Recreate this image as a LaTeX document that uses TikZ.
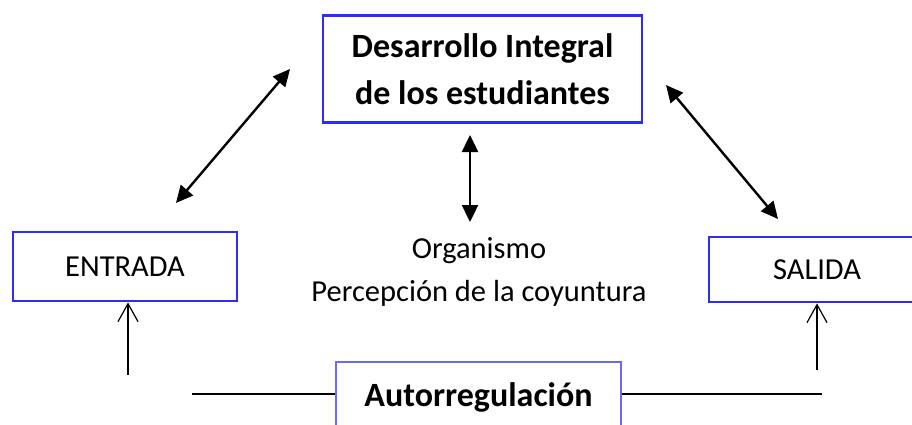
\documentclass[tikz,border=0pt]{standalone}
\usepackage{fontspec}
\setmainfont{Carlito}
\usetikzlibrary{arrows.meta}
\definecolor{boxblue}{RGB}{45,45,250}
\definecolor{paleblue}{RGB}{105,105,250}
\tikzset{
  bluebox/.style={draw=boxblue, line width=2.8pt, align=center, inner sep=0pt},
  dblarrow/.style={line width=2.4pt, {Triangle[length=17pt,width=16pt]}-{Triangle[length=17pt,width=16pt]}},
  uparrow/.style={line width=1.2pt, -{Straight Barb[length=18pt,width=20pt]}},
  boldtext/.style={font=\fontsize{34}{47}\selectfont\bfseries},
  plaintext/.style={font=\fontsize{30.5}{43}\selectfont},
}
\begin{document}
\begin{tikzpicture}[x=1pt, y=-1pt]
    \clip (0,0) rectangle (912,425);
    % boxes
    \node[bluebox, boldtext, minimum width=319pt, minimum height=107pt] (dev) at (482.5,69) {Desarrollo Integral\\de los estudiantes};
    \node[bluebox, plaintext, font=\fontsize{30.5}{43}\selectfont, minimum width=224pt, minimum height=69pt] (ent) at (125,266.5) {ENTRADA};
    \node[bluebox, plaintext, font=\fontsize{30.5}{43}\selectfont, minimum width=216pt, minimum height=65pt] (sal) at (817,269.5) {SALIDA};
    \node[bluebox, boldtext, draw=paleblue, line width=1.5pt, minimum width=285pt, minimum height=70pt] (auto) at (478.5,397) {Autorregulación};
    % middle text
    \node[plaintext, align=center] (org) at (479,272) {Organismo\\Percepción de la coyuntura};
    % arrow ends
    \coordinate (l1) at (290,69);
    \coordinate (l2) at (176,203);
    \coordinate (r1) at (666,85);
    \coordinate (r2) at (778,219);
    \coordinate (m1) at (470,135);
    \coordinate (m2) at (470,222);
    \coordinate (ein) at (128,375);
    \coordinate (sin) at (817,370);
    \coordinate (lstart) at (192,394);
    \coordinate (rend) at (822,394);
    % double arrows
    \draw[dblarrow] (l1) -- (l2);
    \draw[dblarrow] (r1) -- (r2);
    \draw[dblarrow] (m1) -- (m2);
    % inputs
    \draw[uparrow] (ein) -- (ein |- ent.south);
    \draw[uparrow] (sin) -- (sin |- sal.south);
    % feedback line
    \draw[line width=1.2pt] (lstart) -- (lstart -| auto.west);
    \draw[line width=1.2pt] (rend -| auto.east) -- (rend);
\end{tikzpicture}
\end{document}
